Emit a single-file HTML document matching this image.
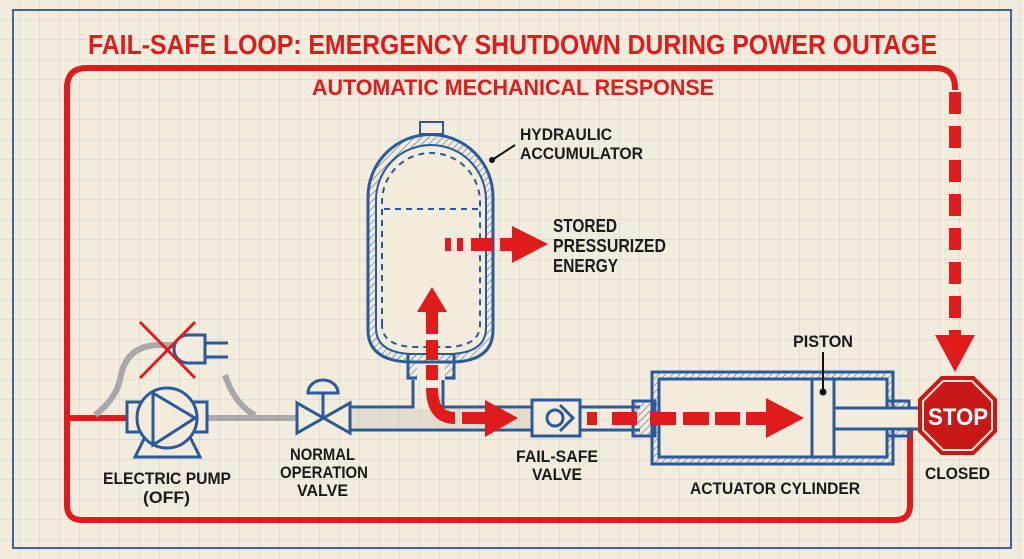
<!DOCTYPE html>
<html><head><meta charset="utf-8"><style>
html,body{margin:0;padding:0;background:#f3ecdc}
svg{display:block}
text{font-family:"Liberation Sans",sans-serif;font-weight:bold}
</style></head><body>
<svg width="1024" height="559" viewBox="0 0 1024 559" xmlns="http://www.w3.org/2000/svg">
<defs>
<pattern id="g" width="20" height="20" patternUnits="userSpaceOnUse">
<path d="M20 0V20M0 20H20" stroke="#c9ced6" stroke-width="1" fill="none"/>
</pattern>
<pattern id="h" width="5" height="5" patternUnits="userSpaceOnUse" patternTransform="rotate(45)">
<path d="M0 0V5" stroke="#2a5a9a" stroke-width="1"/>
</pattern>
</defs>
<rect width="1024" height="559" fill="#f3ecdc"/>
<rect width="1024" height="559" fill="url(#g)"/>
<rect x="13" y="10" width="998" height="538" fill="none" stroke="#3a64a8" stroke-width="2"/>

<text x="88" y="54" textLength="849" lengthAdjust="spacingAndGlyphs" font-size="28" fill="#e01b1b">FAIL-SAFE LOOP: EMERGENCY SHUTDOWN DURING POWER OUTAGE</text>
<text x="312" y="95" textLength="402" lengthAdjust="spacingAndGlyphs" font-size="22" fill="#e01b1b">AUTOMATIC MECHANICAL RESPONSE</text>

<path d="M67 420 V88 Q67 68 87 68 H935 Q955 68 955 88 V90" fill="none" stroke="#e01b1b" stroke-width="6"/>
<path d="M955 92 V340" fill="none" stroke="#e01b1b" stroke-width="12" stroke-dasharray="22,12"/>
<polygon points="935,335 975,335 955,372" fill="#e01b1b"/>
<path d="M67 418 V505 Q67 520 82 520 H895 Q910 520 910 505 V430" fill="none" stroke="#e01b1b" stroke-width="6"/>
<line x1="67" y1="418" x2="127" y2="418" stroke="#e01b1b" stroke-width="6"/>

<path d="M95 415 Q115 400 120 380 Q125 345 160 345 H190" fill="none" stroke="#a8a8a8" stroke-width="6"/>
<path d="M225 375 Q235 405 255 415" fill="none" stroke="#a8a8a8" stroke-width="6"/>
<line x1="205" y1="418" x2="298" y2="418" stroke="#a8a8a8" stroke-width="6"/>
<path d="M205 335 H188 A14 14 0 0 0 188 363 H205 Z" fill="#f3ecdc" stroke="#2a5a9a" stroke-width="3"/>
<line x1="205" y1="343" x2="228" y2="343" stroke="#2a5a9a" stroke-width="3"/>
<line x1="205" y1="357" x2="228" y2="357" stroke="#2a5a9a" stroke-width="3"/>
<line x1="140" y1="322" x2="195" y2="378" stroke="#e01b1b" stroke-width="3"/>
<line x1="195" y1="322" x2="140" y2="378" stroke="#e01b1b" stroke-width="3"/>

<polygon points="145,437 190,437 200,457 135,457" fill="#f3ecdc" stroke="#2a5a9a" stroke-width="3"/>
<rect x="127" y="402" width="80" height="30" fill="#f3ecdc" stroke="#2a5a9a" stroke-width="3"/>
<circle cx="167" cy="418" r="30" fill="#f3ecdc" stroke="#2a5a9a" stroke-width="3"/>
<polygon points="153,393 153,445 195,418" fill="none" stroke="#2a5a9a" stroke-width="3"/>

<path d="M350 407 H413 V380 M443 380 V407 H532 M350 430 H532 M580 407 H640 M580 430 H640" fill="none" stroke="#2a5a9a" stroke-width="3"/>
<rect x="350" y="409" width="180" height="19" fill="#c9c4b8" opacity="0.35"/>

<polygon points="297,403 297,433 350,403 350,433" fill="#f3ecdc" stroke="#2a5a9a" stroke-width="3"/>
<line x1="323" y1="418" x2="323" y2="393" stroke="#2a5a9a" stroke-width="3"/>
<path d="M308 393 A15 13 0 0 1 338 393 Z" fill="#f3ecdc" stroke="#2a5a9a" stroke-width="3"/>

<rect x="408" y="350" width="46" height="28" fill="url(#h)" stroke="#2a5a9a" stroke-width="3"/>
<rect x="417" y="350" width="28" height="30" fill="#f3ecdc"/>
<path d="M368 330 V197 A62 62 0 0 1 493 197 V330 Q493 360 455 362 H408 Q368 360 368 330 Z" fill="url(#h)" stroke="#2a5a9a" stroke-width="3"/>
<path d="M376 328 V200 A55 55 0 0 1 486 200 V328 Q486 352 452 354 H410 Q376 352 376 328 Z" fill="#f3ecdc" stroke="#2a5a9a" stroke-width="2"/>
<path d="M382 325 V202 A49 49 0 0 1 480 202 V325 Q480 345 450 347 H412 Q382 345 382 325 Z" fill="none" stroke="#2a5a9a" stroke-width="2" stroke-dasharray="6,5"/>
<line x1="384" y1="209" x2="478" y2="209" stroke="#2a5a9a" stroke-width="2" stroke-dasharray="6,5"/>
<rect x="420" y="122" width="23" height="12" fill="#f3ecdc" stroke="#2a5a9a" stroke-width="2"/>
<line x1="492" y1="160" x2="515" y2="145" stroke="#111" stroke-width="2"/>
<circle cx="492" cy="160" r="3" fill="#111"/>
<text x="520" y="140" textLength="92" lengthAdjust="spacingAndGlyphs" font-size="17" fill="#1a1a1a">HYDRAULIC</text>
<text x="520" y="159" textLength="123" lengthAdjust="spacingAndGlyphs" font-size="17" fill="#1a1a1a">ACCUMULATOR</text>

<rect x="445" y="238" width="6" height="13" fill="#e01b1b"/>
<rect x="457" y="238" width="6" height="13" fill="#e01b1b"/>
<rect x="471" y="238" width="22" height="13" fill="#e01b1b"/>
<rect x="500" y="238" width="14" height="13" fill="#e01b1b"/>
<polygon points="512,226 548,244 512,263" fill="#e01b1b"/>
<text x="553" y="232" textLength="64" lengthAdjust="spacingAndGlyphs" font-size="18" fill="#1a1a1a">STORED</text>
<text x="553" y="252" textLength="113" lengthAdjust="spacingAndGlyphs" font-size="18" fill="#1a1a1a">PRESSURIZED</text>
<text x="553" y="272" textLength="65" lengthAdjust="spacingAndGlyphs" font-size="18" fill="#1a1a1a">ENERGY</text>

<polygon points="417,312 432,287 447,312" fill="#e01b1b"/>
<rect x="426" y="312" width="12" height="22" fill="#e01b1b"/>
<rect x="426" y="340" width="12" height="20" fill="#e01b1b"/>
<rect x="426" y="365" width="12" height="15" fill="#e01b1b"/>
<path d="M432 388 Q432 418 455 418" fill="none" stroke="#e01b1b" stroke-width="12"/>
<rect x="462" y="412" width="25" height="12" fill="#e01b1b"/>
<polygon points="485,400 518,418 485,437" fill="#e01b1b"/>

<rect x="532" y="400" width="48" height="36" fill="#f3ecdc" stroke="#2a5a9a" stroke-width="3"/>
<circle cx="555" cy="418" r="8" fill="none" stroke="#2a5a9a" stroke-width="3"/>
<polyline points="560,405 573,418 560,431" fill="none" stroke="#2a5a9a" stroke-width="3"/>

<rect x="633" y="401" width="22" height="35" fill="url(#h)" stroke="#2a5a9a" stroke-width="3"/>
<rect x="883" y="401" width="26" height="35" fill="url(#h)" stroke="#2a5a9a" stroke-width="3"/>
<rect x="652" y="372" width="241" height="92" fill="url(#h)" stroke="#2a5a9a" stroke-width="3"/>
<rect x="659" y="379" width="228" height="78" fill="#f3ecdc" stroke="#2a5a9a" stroke-width="3"/>
<rect x="812" y="379" width="22" height="78" fill="#f3ecdc" stroke="#2a5a9a" stroke-width="3"/>
<rect x="834" y="408" width="86" height="21" fill="#f3ecdc" stroke="#2a5a9a" stroke-width="3"/>
<rect x="885" y="410" width="35" height="17" fill="#f3ecdc"/>
<line x1="823" y1="352" x2="823" y2="392" stroke="#111" stroke-width="2"/>
<circle cx="823" cy="392" r="3.5" fill="#111"/>
<text x="793" y="347" textLength="60" lengthAdjust="spacingAndGlyphs" font-size="17" fill="#1a1a1a">PISTON</text>

<g fill="#e01b1b">
<rect x="587" y="412" width="10" height="13"/>
<rect x="612" y="412" width="25" height="13"/>
<rect x="650" y="412" width="26" height="13"/>
<rect x="683" y="412" width="26" height="13"/>
<rect x="715" y="412" width="25" height="13"/>
<rect x="746" y="412" width="20" height="13"/>
<polygon points="766,398 804,418 766,438"/>
</g>

<polygon points="941,376 974,376 997,399 997,432 974,455 941,455 918,432 918,399" fill="#c81818"/>
<polygon points="943,381 972,381 992,401 992,430 972,450 943,450 923,430 923,401" fill="none" stroke="#f3ecdc" stroke-width="2"/>
<text x="928" y="425" textLength="60" lengthAdjust="spacingAndGlyphs" font-size="24" fill="#fff">STOP</text>

<g font-size="17" fill="#1a1a1a">
<text x="103" y="484" textLength="128" lengthAdjust="spacingAndGlyphs">ELECTRIC PUMP</text>
<text x="143" y="503" textLength="47" lengthAdjust="spacingAndGlyphs">(OFF)</text>
<text x="290" y="460" textLength="65" lengthAdjust="spacingAndGlyphs">NORMAL</text>
<text x="280" y="478" textLength="88" lengthAdjust="spacingAndGlyphs">OPERATION</text>
<text x="297" y="496" textLength="51" lengthAdjust="spacingAndGlyphs">VALVE</text>
<text x="516" y="462" textLength="82" lengthAdjust="spacingAndGlyphs">FAIL-SAFE</text>
<text x="532" y="480" textLength="50" lengthAdjust="spacingAndGlyphs">VALVE</text>
<text x="690" y="494" textLength="170" lengthAdjust="spacingAndGlyphs">ACTUATOR CYLINDER</text>
<text x="925" y="479" textLength="65" lengthAdjust="spacingAndGlyphs">CLOSED</text>
</g>
</svg>
</body></html>
